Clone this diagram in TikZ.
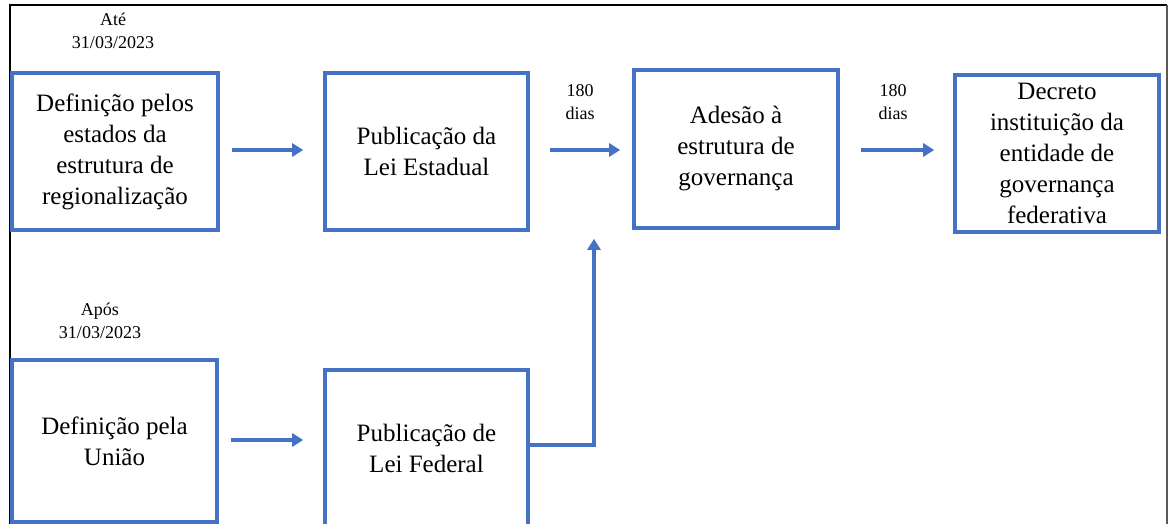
\documentclass[tikz,border=0pt]{standalone}
\usepackage{fontspec}
\setmainfont{Liberation Serif}
\newfontfamily\tnr{Liberation Serif}
\usetikzlibrary{arrows.meta}
\definecolor{boxblue}{HTML}{4472C4}
\tikzset{
  x=1pt, y=-1pt,
  stepbox/.style={draw=boxblue, line width=3.6pt, align=center, inner sep=0pt,
    font=\tnr\fontsize{25}{31}\selectfont},
  lbl/.style={align=center, inner sep=0pt, font=\tnr\fontsize{18}{23}\selectfont},
  arr/.style={draw=boxblue, line width=3.8pt, -{Triangle[length=11pt,width=13pt]}},
}
\begin{document}
\begin{tikzpicture}
\useasboundingbox (0,0) rectangle (1168,524);
\fill[white] (0,0) rectangle (1168,524);
\draw[black, line width=2pt] (10,530) -- (10,5) -- (1167,5);
\draw[gray!70!black, line width=1.5pt] (1167,5) -- (1167,530);

\node[stepbox, minimum width=206pt, minimum height=157pt] (b1) at (115,151.5)
  {Definição pelos\\estados da\\estrutura de\\regionalização};
\node[stepbox, minimum width=203pt, minimum height=157pt] (b2) at (426.5,151.5)
  {Publicação da\\Lei Estadual};
\node[stepbox, minimum width=204pt, minimum height=158pt] (b3) at (736,149)
  {Adesão à\\estrutura de\\governança};
\node[stepbox, minimum width=204pt, minimum height=157pt] (b4) at (1057,153.5)
  {Decreto\\instituição da\\entidade de\\governança\\federativa};
\node[stepbox, minimum width=205pt, minimum height=162pt] (b5) at (114.5,441)
  {Definição pela\\União};
\node[stepbox, minimum width=203pt, minimum height=156pt] (b6) at (426.5,448)
  {Publicação de\\Lei Federal};

\node[lbl] (l1) at (113,31) {Até\\31/03/2023};
\node[lbl] (l2) at (100,321) {Após\\31/03/2023};
\node[lbl] (l3) at (580,102) {180\\dias};
\node[lbl] (l4) at (893,102) {180\\dias};

\draw[arr, shorten <=12pt, shorten >=20pt] (b1.east |- 0,150) -- (b2.west |- 0,150);
\draw[arr, shorten <=20pt, shorten >=12pt] (b2.east |- 0,150) -- (b3.west |- 0,150);
\draw[arr, shorten <=21pt, shorten >=19pt] (b3.east |- 0,150) -- (b4.west |- 0,150);
\draw[arr, shorten <=12pt, shorten >=20pt] (b5.east |- 0,440) -- (b6.west |- 0,440);
\draw[arr, shorten >=9pt] (b6.east |- 0,445) -| ([xshift=-142pt]b3.south);
\end{tikzpicture}
\end{document}
